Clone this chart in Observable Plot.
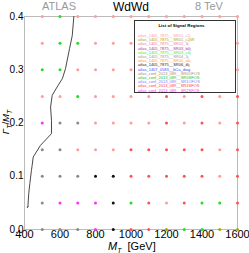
<!DOCTYPE html>
<html><head><meta charset="utf-8">
<script src="https://cdn.jsdelivr.net/npm/d3@7"></script>
<script src="https://cdn.jsdelivr.net/npm/@observablehq/plot@0.6"></script>
<style>
body{margin:0;background:#fff;font-family:"Liberation Sans",Arial,sans-serif;}
#wrap{position:relative;width:249px;height:253px;overflow:hidden;}
.t{position:absolute;white-space:nowrap;font-size:11px;line-height:1;}
.t sub{line-height:0;font-size:7px;}
#legend{position:absolute;left:134px;top:20px;width:102px;height:73px;border:1.3px solid #333;background:#fff;box-sizing:border-box;padding:2px 0 0 3px;}
#legend .ttl{font-weight:bold;font-size:4.4px;line-height:5px;text-align:center;margin-bottom:6px;padding-right:10px;}
#legend .e{font-size:4px;line-height:4.2px;white-space:nowrap;}
</style></head>
<body><div id="wrap"></div>
<script>
// grid of mass points and widths
const massValues = [500,600,700,800,900,1000,1100,1200,1300,1400,1500,1600];
const widthValues = [0.40,0.35,0.30,0.25,0.20,0.15,0.10,0.05,0.00];
// best signal region code per grid point (rows follow widthValues)
const bestRegionRows = [
  "PGPPPPPPPPPP",
  "PGGPPPPPPPPP",
  "GGPPPPPPPPPP",
  "PPGPPPPRPRPR",
  "MKKPPPPRPRPR",
  "KKPPPRRRRRPR",
  "KKKBBRRRRRPR",
  "KMMMBGRPRGGR",
  "KKKMBRROGGOO"
];
const codeColors = {P:"#ff9c9c",R:"#ff5252",G:"#22dd22",K:"#8a8a8a",B:"#111111",M:"#ff30ff",O:"#a8a800"};
// exclusion contour
const contourMass = [678,669,654,631,613,588,556,547,552,552,490,449,443,439,430,424,419,415,420];
const contourWidth = [0.400,0.364,0.340,0.302,0.283,0.270,0.252,0.230,0.205,0.180,0.158,0.136,0.120,0.111,0.086,0.068,0.042,0.041,0.043];
// legend entries
const regionNames = [
  "atlas_1405_7875__SR01_c2j","atlas_1405_7875__SR01_c2jW","atlas_1405_7875__SR02_3j",
  "atlas_1405_7875__SR03_b4j","atlas_1405_7875__SR03_c4j","atlas_1405_7875__SR04_5j",
  "atlas_1405_7875__SR05_a6j","atlas_1405_7875__SR06_i6j","atlas_1407_0583__bCa_diag",
  "atlas_conf_2013_089__SR0OFOS","atlas_conf_2013_089__SR0SFOS","atlas_conf_2013_089__SR1OFOS",
  "atlas_conf_2013_089__SR1SFOS","atlas_conf_2013_089__SR2SFOS"];
const regionColors = ["#ff9c9c","#a8a800","#ff6f9f","#9a3a9a","#33ee33","#999999","#ff9933","#222222","#4a4aff","#b08a60","#22bb22","#8080ff","#ff3b3b","#ff30ff"];
const xTicks = [400,600,800,1000,1200,1400,1600];
const yTicks = [0.0,0.1,0.2,0.3,0.4];

const points = [];
widthValues.forEach((w,i)=>massValues.forEach((m,j)=>points.push({m,w,c:codeColors[bestRegionRows[i][j]]})));
const contour = contourMass.map((m,i)=>({m,w:contourWidth[i]}));

const chart = Plot.plot({
  width:249, height:253,
  marginLeft:24, marginRight:12, marginTop:16, marginBottom:24,
  style:{fontFamily:"Liberation Sans, Arial, sans-serif", background:"transparent"},
  x:{domain:[400,1600], label:null},
  y:{domain:[0,0.4], label:null},
  marks:[
    Plot.frame({stroke:"#bbb"}),
    Plot.axisX({ticks:xTicks, tickSize:0, tickPadding:1, fontSize:11, label:null, tickFormat:d=>String(d)}),
    Plot.axisY({ticks:yTicks, tickSize:0, tickPadding:1, fontSize:10, label:null, tickFormat:d=>d.toFixed(1)}),
    Plot.dot(points,{x:"m", y:"w", fill:"c", r:1.5}),
    Plot.line(contour,{x:"m", y:"w", stroke:"#333", strokeWidth:0.9})
  ]
});
const wrap = document.getElementById("wrap");
wrap.appendChild(chart);
function addText(html, left, top, style){const d=document.createElement("div");d.className="t";d.innerHTML=html;d.style.left=left+"px";d.style.top=top+"px";Object.assign(d.style,style||{});wrap.appendChild(d);return d;}
addText("ATLAS",42,1,{color:"#999",fontSize:"11px"});
addText("WdWd",113,1,{color:"#000",fontSize:"12px"});
addText("8 TeV",195,1,{color:"#999",fontSize:"11px"});
addText("<i>M</i><sub><i>T</i></sub>&nbsp; [GeV]",108,241,{fontSize:"11px"});
addText("<i>Γ</i><sub><i>T</i></sub>/<i>M</i><sub><i>T</i></sub>",5.5,122,{transform:"translate(-50%,-50%) rotate(-90deg)",fontSize:"9.5px"});
const lg = document.createElement("div"); lg.id="legend";
lg.innerHTML = "<div class='ttl'>List of Signal Regions</div>" + regionNames.map((n,i)=>`<div class='e' style='color:${regionColors[i]}'>${n}</div>`).join("");
wrap.appendChild(lg);
</script></body></html>
